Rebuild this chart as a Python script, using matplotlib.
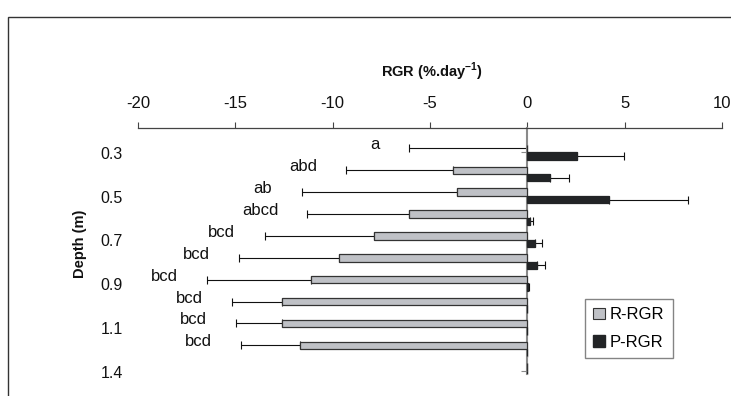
import numpy as np
import matplotlib
matplotlib.use("Agg")
import matplotlib.pyplot as plt
import matplotlib.transforms as mtrans
from matplotlib.patches import Rectangle, Patch

plt.rcParams["font.family"] = ["Liberation Sans", "DejaVu Sans"]
plt.rcParams["mathtext.fontset"] = "custom"
plt.rcParams["mathtext.rm"] = "Liberation Sans"
plt.rcParams["mathtext.bf"] = "Liberation Sans:bold"

# ------------------------------------------------------------------
# Data
# ------------------------------------------------------------------
depths = ["0.3", "0.4", "0.5", "0.6", "0.7", "0.8", "0.9", "1.0", "1.1", "1.2", "1.4"]
r_rgr = [0.0, -3.8, -3.6, -6.1, -7.9, -9.7, -11.1, -12.6, -12.6, -11.7, 0.0]
r_err = [6.1, 5.5, 8.0, 5.2, 5.6, 5.1, 5.35, 2.55, 2.35, 3.0, 0.0]
p_rgr = [2.55, 1.15, 4.2, 0.15, 0.4, 0.5, 0.05, 0.0, 0.0, 0.0, 0.0]
p_err = [2.4, 1.0, 4.05, 0.13, 0.35, 0.4, 0.05, 0.0, 0.0, 0.0, 0.0]
letters = ["a", "abd", "ab", "abcd", "bcd", "bcd", "bcd", "bcd", "bcd", "bcd", ""]
x_ticks = [-20, -15, -10, -5, 0, 5, 10]

GRAY = "#bfc1c6"
BLACK = "#222426"
EDGE = "#333333"

fig = plt.figure(figsize=(7.31, 3.96), dpi=100)
ax = fig.add_axes([138 / 731, 1 - 374 / 396, 584 / 731, 246 / 396])

y = np.arange(len(depths))
h = 0.34

ax.barh(y - h / 2, r_rgr, height=h, color=GRAY, edgecolor=EDGE, linewidth=0.9, zorder=3)
ax.barh(y + h / 2, p_rgr, height=h, color=BLACK, edgecolor=BLACK, linewidth=0.9, zorder=3)

# one-sided error bars: minus for R-RGR, plus for P-RGR
ax.errorbar(r_rgr, y - h / 2, xerr=[r_err, np.zeros(len(r_err))], fmt="none",
            ecolor="#111111", elinewidth=0.8, capsize=3, capthick=0.8, zorder=2)
ax.errorbar(p_rgr, y + h / 2, xerr=[np.zeros(len(p_err)), p_err], fmt="none",
            ecolor="#111111", elinewidth=0.8, capsize=3, capthick=0.8, zorder=2)

# significance letters left of each error bar
for yi, v, e, lab in zip(y, r_rgr, r_err, letters):
    if lab:
        ax.annotate(lab, xy=(v - e, yi - 0.33), xytext=(-21, 0), textcoords="offset points",
                    ha="right", va="center", fontsize=12, color="#111111")

ax.set_xlim(-20, 10)
ax.set_ylim(10.14, -1.1)

# top value axis
ax.xaxis.tick_top()
ax.set_xticks(x_ticks)
ax.set_xticklabels([str(t) for t in x_ticks])
ax.tick_params(axis="x", direction="out", length=4.5, width=0.8, color="#444444",
               labelsize=12, pad=8, labelcolor="#111111")

# category axis crossing at zero
ax.spines["left"].set_position(("data", 0))
ax.spines["left"].set_color("#8a8a8a")
ax.spines["left"].set_linewidth(1.5)
ax.spines["top"].set_color("#444444")
ax.spines["top"].set_linewidth(0.9)
ax.spines["right"].set_visible(False)
ax.spines["bottom"].set_visible(False)
ax.set_yticks(y)
ax.tick_params(axis="y", direction="out", length=4, width=0.8, color="#8a8a8a",
               labelleft=False)

# depth labels at the low end of the chart (every other category)
lab_tr = mtrans.blended_transform_factory(ax.transAxes, ax.transData)
for yi, d in zip(y[::2], depths[::2]):
    ax.text(-0.026, yi + 0.1, d, transform=lab_tr, ha="right", va="center",
            fontsize=11.5, color="#111111")

fig.text(432 / 731, 1 - 72 / 396, r"RGR (%.day$^{\mathbf{-1}}$)", ha="center", va="center",
         fontsize=10.5, fontweight="bold", color="#111111")
fig.text(80 / 731, 1 - 244 / 396, "Depth (m)", rotation=90, ha="center", va="center",
         fontsize=10.5, fontweight="bold", color="#111111")

handles = [Patch(facecolor=GRAY, edgecolor=EDGE, linewidth=0.8, label="R-RGR"),
           Patch(facecolor=BLACK, edgecolor=BLACK, label="P-RGR")]
leg = fig.legend(handles=handles, loc="upper left", bbox_to_anchor=(585 / 731, 1 - 299 / 396),
                 frameon=True, fancybox=False, fontsize=12, handlelength=0.7, handleheight=0.7,
                 handletextpad=0.3, borderpad=0.5, labelspacing=0.75, borderaxespad=0)
leg.get_frame().set_edgecolor("#666666")
leg.get_frame().set_linewidth(1.0)

# chart area border (cut off at right and bottom in the reference)
fig.patches.append(Rectangle((8 / 731, -0.2), 1.2, 1 - 17 / 396 + 0.2, transform=fig.transFigure,
                             fill=False, edgecolor="#333333", linewidth=1.0))

fig.savefig("out.png", dpi=100, facecolor="white")
